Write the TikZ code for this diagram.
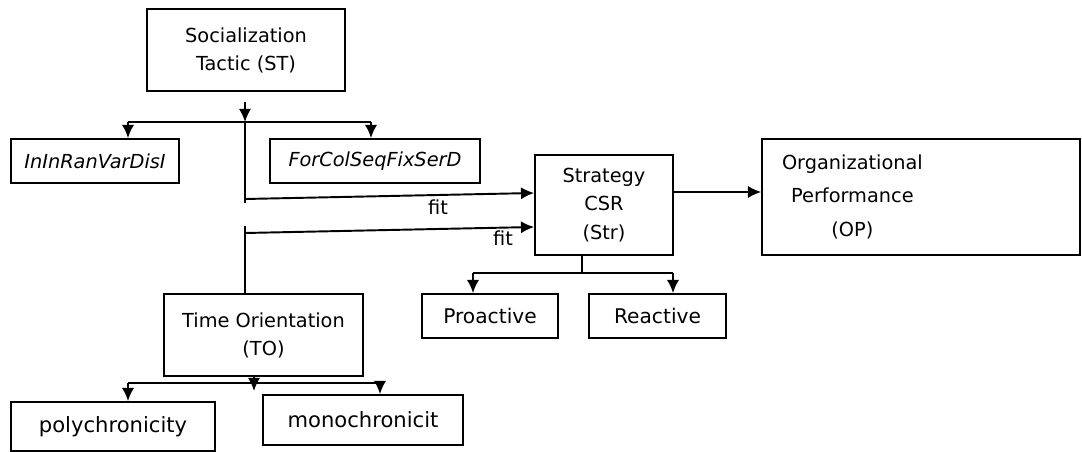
\documentclass[tikz,border=0pt]{standalone}
\usepackage{fontspec}
\setmainfont{DejaVu Sans}
\usetikzlibrary{arrows.meta}
\begin{document}
\begin{tikzpicture}[x=0.02cm, y=-0.02cm, line width=1.1pt,
      every node/.style={font=\fontsize{11}{16}\selectfont, align=center},
      box/.style={draw, line width=1pt, inner sep=0pt},
      arr/.style={-{Latex[length=7.5pt,width=7pt]}}]
      \useasboundingbox (0,0) rectangle (1082,452);
      \node[box, minimum width=3.96cm, minimum height=1.64cm] (st) at (246,50) {Socialization\\Tactic (ST)};
      \node[box, minimum width=3.36cm, minimum height=0.88cm] (ininran) at (95,161) {\itshape InInRanVarDisI};
      \node[box, minimum width=4.2cm, minimum height=0.88cm] (forcol) at (375,161) {\itshape ForColSeqFixSerD};
      \node[box, minimum width=2.76cm, minimum height=2cm] (str) at (604,205) {Strategy\\CSR\\(Str)};
      \node[box, minimum width=6.36cm, minimum height=2.32cm, text width=5.56cm, inner xsep=0.4cm, align=left] (op) at (921,197)
        {\begin{tabular}{@{}c@{}}Organizational\\[3pt]Performance\\[3pt](OP)\end{tabular}};
      \node[box, minimum width=2.72cm, minimum height=0.88cm, font=\fontsize{11.5}{16}\selectfont] (pro) at (490,316) {Proactive};
      \node[box, minimum width=2.74cm, minimum height=0.88cm, font=\fontsize{11.5}{16}\selectfont] (rea) at (657.5,316) {Reactive};
      \node[box, minimum width=3.98cm, minimum height=1.64cm] (to) at (263.5,335) {Time Orientation\\(TO)};
      \node[box, minimum width=4.08cm, minimum height=0.98cm, font=\fontsize{12}{16}\selectfont] (poly) at (113,426.5) {polychronicity};
      \node[box, minimum width=4cm, minimum height=1cm, font=\fontsize{12}{16}\selectfont] (mono) at (363,420) {monochronicit};
      \node (fitlaba) at (438,207) {fit};
      \node (fitlabb) at (503,238) {fit};

      \coordinate (sttop) at (245,102);
      \coordinate (stsplit) at (245,122);
      \coordinate (stleft) at (128,122);
      \coordinate (stright) at (371,122);
      \coordinate (fita) at (245,199);
      \coordinate (fitb) at (245,233);
      \coordinate (totop) at (245,226);
      \coordinate (todown) at (254,391);
      \coordinate (toleft) at (128,383);
      \coordinate (toright) at (380,383);
      \coordinate (strsplit) at (582,273);
      \coordinate (strleft) at (473,273);
      \coordinate (strright) at (673,273);

      \draw[arr] (sttop) -- (stsplit);
      \draw (stleft) -- (stright);
      \draw[arr] (stleft) -- (stleft |- ininran.north);
      \draw[arr] (stright) -- (stright |- forcol.north);
      \draw (stsplit) -- (245,203);
      \draw[arr] (fita) -- ([yshift=0.24cm]str.west);
      \draw[arr] (fitb) -- ([yshift=-0.44cm]str.west);
      \draw (totop) -- (totop |- to.north);
      \draw[arr] (str.east |- 0,192) -- (op.west |- 0,192);
      \draw (str.south -| strsplit) -- (strsplit);
      \draw (strleft) -- (strright);
      \draw[arr] (strleft) -- (strleft |- pro.north);
      \draw[arr] (strright) -- (strright |- rea.north);
      \draw[arr] (to.south -| todown) -- (todown);
      \draw (toleft) -- (toright);
      \draw[arr] (toleft) -- (toleft |- poly.north);
      \draw[arr] (toright) -- (toright |- mono.north);
    \end{tikzpicture}
\end{document}
